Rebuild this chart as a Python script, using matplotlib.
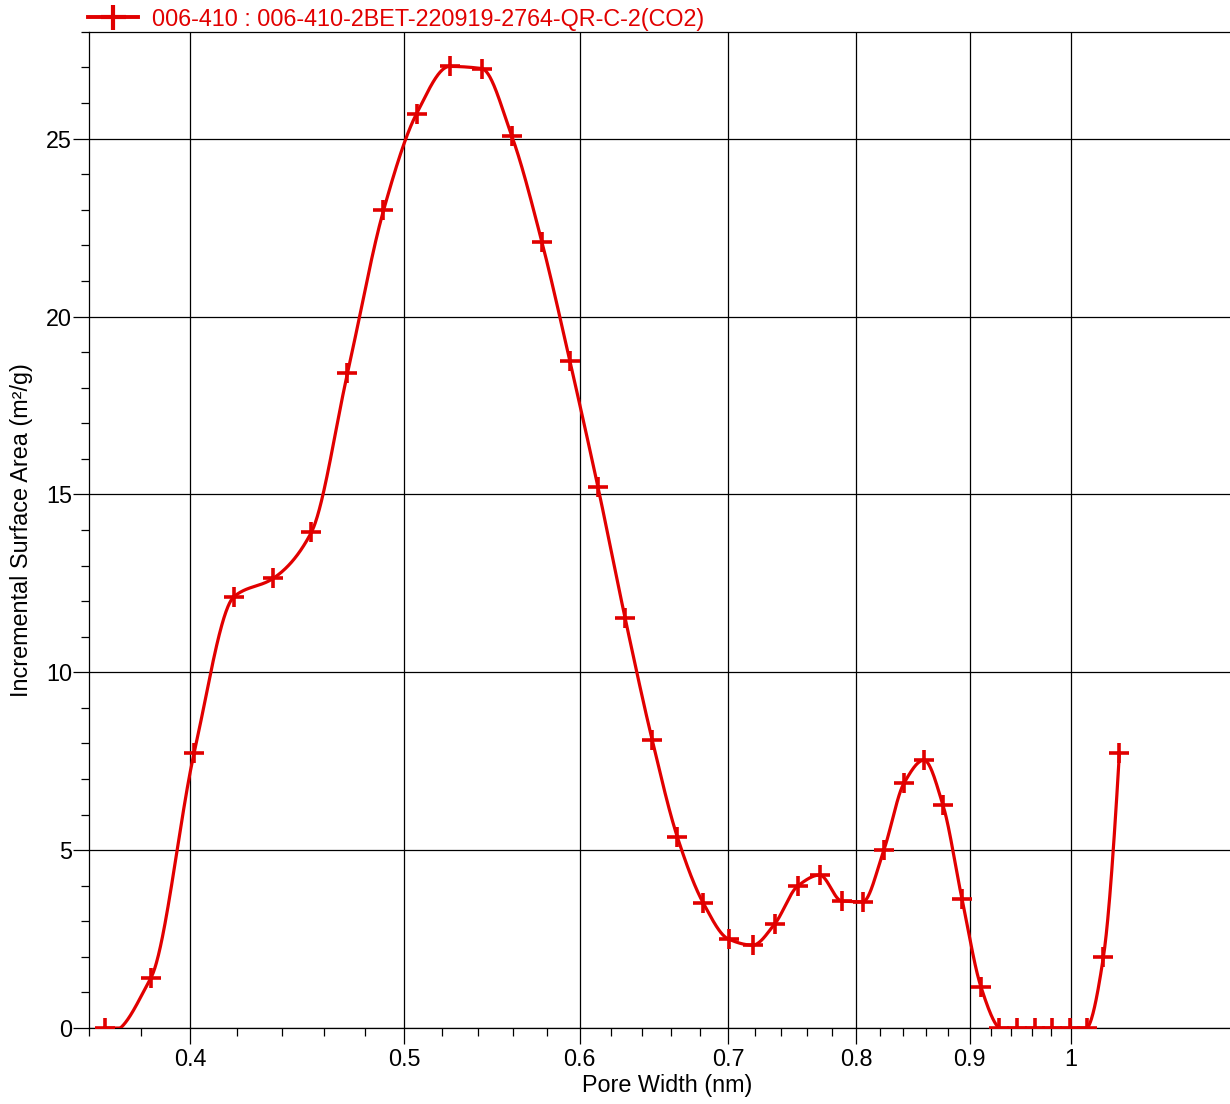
import numpy as np
import matplotlib
matplotlib.use("Agg")
import matplotlib.pyplot as plt
from matplotlib.ticker import FixedLocator, NullFormatter

# ---- data ----
pore_width = [0.366, 0.384, 0.4017, 0.4188, 0.4362, 0.4538, 0.4712, 0.4892,
              0.5063, 0.5240, 0.5418, 0.5590, 0.5768, 0.5939, 0.6115, 0.6290,
              0.6470, 0.6641, 0.6823, 0.7004, 0.7182, 0.7348, 0.7526, 0.7701,
              0.7880, 0.8054, 0.8232, 0.8406, 0.8583, 0.8755, 0.8930, 0.9108,
              0.9281, 0.9457, 0.9636, 0.9808, 0.9994, 1.0173, 1.0344, 1.0518]
surface_area = [0.0, 1.40, 7.72, 12.13, 12.64, 13.93, 18.40, 22.98,
                25.70, 27.03, 26.97, 25.08, 22.10, 18.74, 15.20, 11.52,
                8.09, 5.37, 3.51, 2.50, 2.33, 2.92, 3.99, 4.30,
                3.57, 3.55, 5.00, 6.88, 7.53, 6.26, 3.62, 1.15,
                0.0, 0.0, 0.0, 0.0, 0.0, 0.0, 1.99, 7.72]
series_name = "006-410 : 006-410-2BET-220919-2764-QR-C-2(CO2)"
x_major = [0.4, 0.5, 0.6, 0.7, 0.8, 0.9, 1.0]
x_major_labels = ["0.4", "0.5", "0.6", "0.7", "0.8", "0.9", "1"]
y_major = [0, 5, 10, 15, 20, 25]

red = "#e10000"


# smoothing: monotone (pchip) slopes, but spline slopes at zero points
# so the curve sits on zero and then lifts off steeply (clipped at 0)
def smooth_curve(x, y, xn):
    x = np.asarray(x, float)
    y = np.asarray(y, float)
    n = len(x)
    h = np.diff(x)
    delta = np.diff(y) / h

    # pchip slopes
    d = np.zeros(n)
    for k in range(1, n - 1):
        if delta[k - 1] * delta[k] > 0:
            w1 = 2 * h[k] + h[k - 1]
            w2 = h[k] + 2 * h[k - 1]
            d[k] = (w1 + w2) / (w1 / delta[k - 1] + w2 / delta[k])

    def end_slope(h0, h1, d0, d1):
        s = ((2 * h0 + h1) * d0 - h0 * d1) / (h0 + h1)
        if np.sign(s) != np.sign(d0):
            s = 0.0
        elif np.sign(d0) != np.sign(d1) and abs(s) > abs(3 * d0):
            s = 3 * d0
        return s

    d[0] = end_slope(h[0], h[1], delta[0], delta[1])
    d[-1] = end_slope(h[-1], h[-2], delta[-1], delta[-2])

    # natural cubic spline slopes
    A = np.zeros((n, n))
    b = np.zeros(n)
    A[0, 0], A[0, 1], b[0] = 2, 1, 3 * delta[0]
    A[-1, -2], A[-1, -1], b[-1] = 1, 2, 3 * delta[-1]
    for i in range(1, n - 1):
        A[i, i - 1] = h[i]
        A[i, i] = 2 * (h[i - 1] + h[i])
        A[i, i + 1] = h[i - 1]
        b[i] = 3 * (h[i] * delta[i - 1] + h[i - 1] * delta[i])
    ds = np.linalg.solve(A, b)
    zero = y == 0
    d[zero] = ds[zero]
    if y[0] == 0:
        # unclamped three-point end slope -> dips under zero, then clipped
        d[0] = ((2 * h[0] + h[1]) * delta[0] - h[0] * delta[1]) / (h[0] + h[1])

    idx = np.clip(np.searchsorted(x, xn) - 1, 0, n - 2)
    t = (xn - x[idx]) / h[idx]
    h00 = 2 * t**3 - 3 * t**2 + 1
    h10 = t**3 - 2 * t**2 + t
    h01 = -2 * t**3 + 3 * t**2
    h11 = t**3 - t**2
    out = (h00 * y[idx] + h10 * h[idx] * d[idx]
           + h01 * y[idx + 1] + h11 * h[idx] * d[idx + 1])
    # flat where both ends are zero
    out[(y[idx] == 0) & (y[idx + 1] == 0)] = 0
    return np.clip(out, 0, None)


lx = np.log10(pore_width)
lx_fine = np.linspace(lx[0], lx[-1], 2000)
y_fine = smooth_curve(lx, surface_area, lx_fine)

plt.rcParams['font.family'] = ['Liberation Sans', 'DejaVu Sans']
fs = 16.8

fig = plt.figure(figsize=(12.3, 11.04), dpi=100)
ax = fig.add_axes([0.0721, 0.0688, 0.941, 0.9023])

ax.plot(10**lx_fine, y_fine, color=red, lw=2.3, zorder=3)
ax.plot(pore_width, surface_area, linestyle='none', marker='+', color=red,
        ms=15, mew=2.6, zorder=4)

# legend handle (line with marker)
ax.plot([], [], color=red, lw=2.8, marker='+', ms=18, mew=3, label=series_name)
ax.legend(loc='lower left', bbox_to_anchor=(-0.003, 0.999), frameon=False,
          fontsize=fs, handlelength=2.15, handletextpad=0.6,
          borderaxespad=0, borderpad=0.1, labelcolor=red)

ax.set_xscale('log')
ax.set_xlim(0.36, 1.2)
ax.set_ylim(0, 28)

ax.xaxis.set_major_locator(FixedLocator(x_major))
ax.set_xticklabels(x_major_labels)
minor_x = [round(v, 2) for v in np.arange(0.36, 1.0, 0.02)
           if all(abs(v - m) > 1e-6 for m in x_major)]
ax.xaxis.set_minor_locator(FixedLocator(minor_x))
ax.xaxis.set_minor_formatter(NullFormatter())

ax.yaxis.set_major_locator(FixedLocator(y_major))
ax.yaxis.set_minor_locator(FixedLocator(range(0, 29)))
ax.set_yticklabels([str(v) for v in y_major])

ax.tick_params(which='major', direction='out', length=11.5, width=0.9,
               labelsize=fs, pad=0.5, color='black')
ax.tick_params(which='minor', direction='out', length=5.8, width=0.9,
               color='black')
ax.tick_params(axis='x', which='major', pad=3)

ax.grid(True, which='major', color='black', lw=0.9)
ax.set_axisbelow(True)

for s in ['left', 'bottom', 'top']:
    ax.spines[s].set_linewidth(0.9)
    ax.spines[s].set_color('black')
ax.spines['right'].set_visible(False)

ax.set_xlabel('Pore Width (nm)', fontsize=fs, labelpad=2)
ax.set_ylabel('Incremental Surface Area (m²/g)', fontsize=fs, labelpad=9)

fig.savefig('out.png', dpi=100)
